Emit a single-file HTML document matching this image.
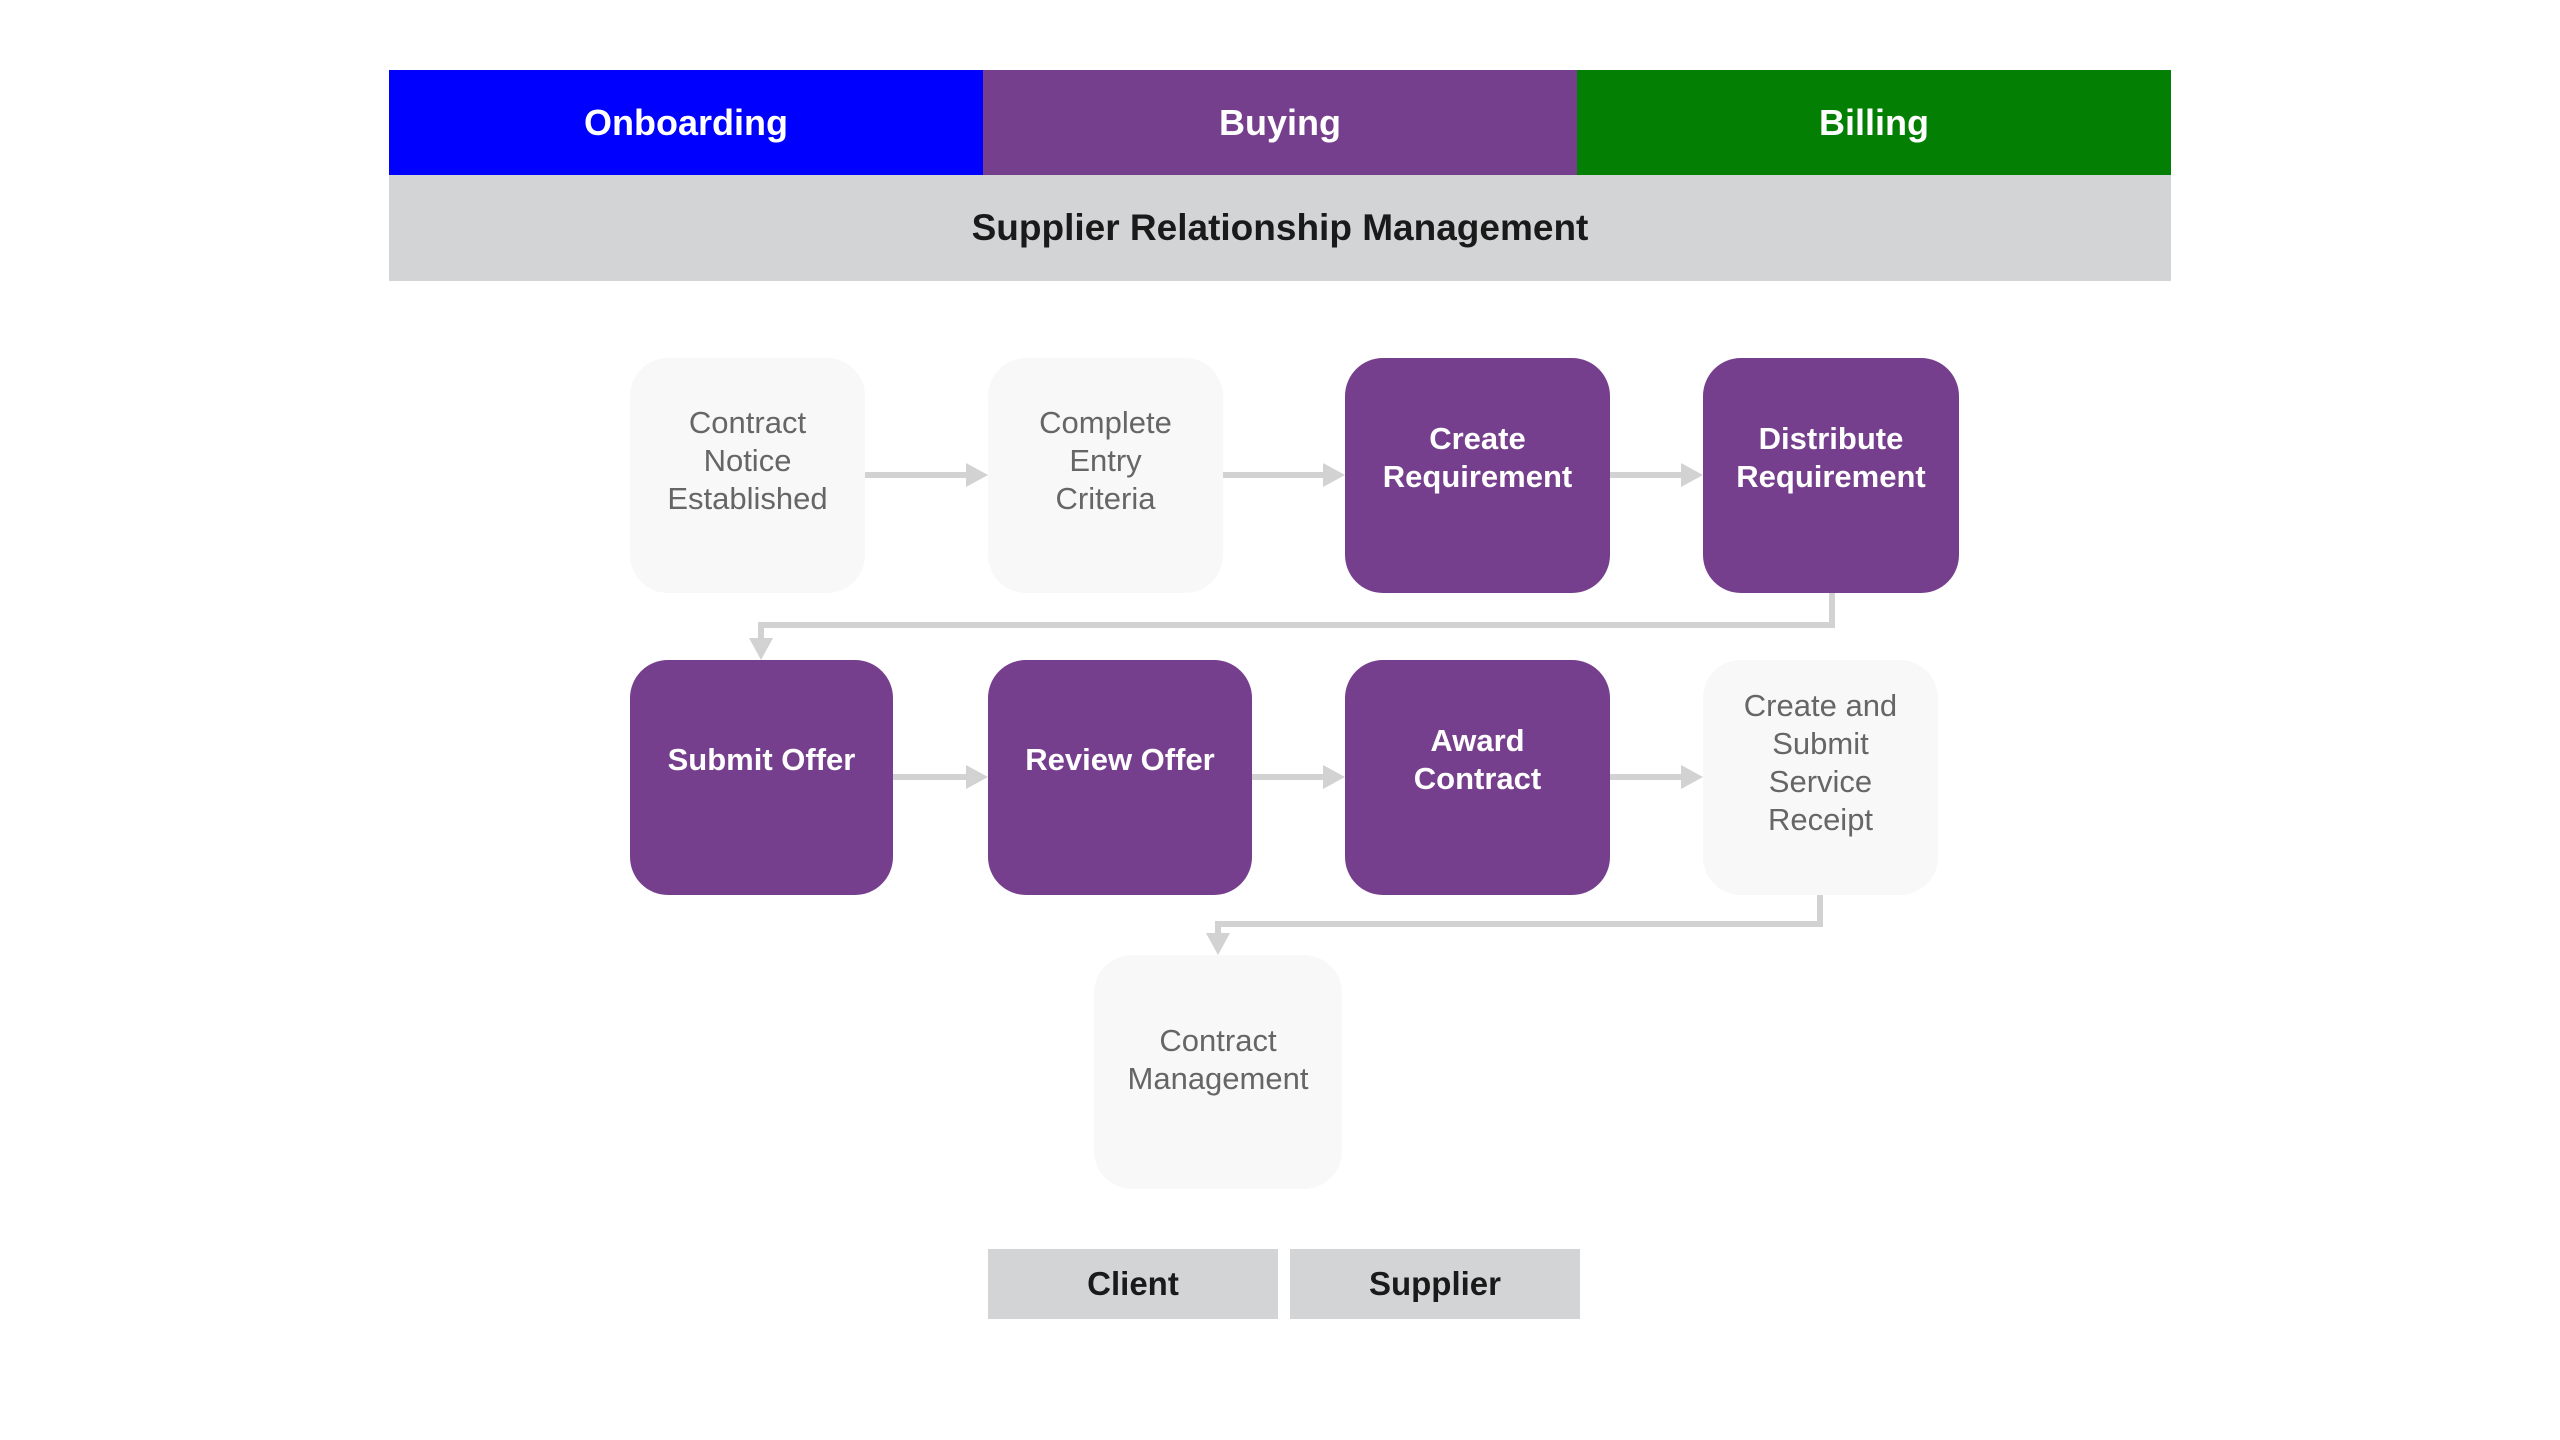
<!DOCTYPE html>
<html><head><meta charset="utf-8"><style>
body{margin:0;width:2560px;height:1440px;background:#fff;font-family:"Liberation Sans",Arial,sans-serif;position:relative;overflow:hidden}
.a{position:absolute;display:flex;align-items:center;justify-content:center;text-align:center;box-sizing:border-box}
.h{color:#fff;font-weight:bold;font-size:36px;top:70px;height:105px}
.n{border-radius:38px;font-size:31px;line-height:38px}
.p{background:#763f8d;color:#fff;font-weight:bold}
.l{background:#f8f8f8;color:#666}
.g{background:#d3d4d6;color:#1a1a1a;font-weight:bold;font-size:33px}
</style></head><body>
<div class="a h" style="left:389px;width:594px;background:#0000ff">Onboarding</div>
<div class="a h" style="left:983px;width:594px;background:#763f8d">Buying</div>
<div class="a h" style="left:1577px;width:594px;background:#038003">Billing</div>
<div class="a g" style="left:389px;width:1782px;top:175px;height:106px;font-size:37px">Supplier Relationship Management</div>

<svg style="position:absolute;left:0;top:0" width="2560" height="1440">
<g stroke="#d2d2d2" stroke-width="6" fill="none">
<line x1="865" y1="475" x2="970" y2="475"/>
<line x1="1223" y1="475" x2="1327" y2="475"/>
<line x1="1610" y1="475" x2="1686" y2="475"/>
<polyline points="1832,593 1832,625 761,625 761,645"/>
<line x1="893" y1="777" x2="970" y2="777"/>
<line x1="1252" y1="777" x2="1327" y2="777"/>
<line x1="1610" y1="777" x2="1686" y2="777"/>
<polyline points="1820,895 1820,924 1218,924 1218,940"/>
</g>
<g fill="#d2d2d2">
<polygon points="966,463 988,475 966,487"/>
<polygon points="1323,463 1345,475 1323,487"/>
<polygon points="1681,463 1703,475 1681,487"/>
<polygon points="749,638 773,638 761,660"/>
<polygon points="966,765 988,777 966,789"/>
<polygon points="1323,765 1345,777 1323,789"/>
<polygon points="1681,765 1703,777 1681,789"/>
<polygon points="1206,933 1230,933 1218,955"/>
</g>
</svg>

<div class="a n l" style="left:630px;top:358px;width:235px;height:235px;padding-bottom:30px">Contract<br>Notice<br>Established</div>
<div class="a n l" style="left:988px;top:358px;width:235px;height:235px;padding-bottom:30px">Complete<br>Entry<br>Criteria</div>
<div class="a n p" style="left:1345px;top:358px;width:265px;height:235px;padding-bottom:36px">Create<br>Requirement</div>
<div class="a n p" style="left:1703px;top:358px;width:256px;height:235px;padding-bottom:36px">Distribute<br>Requirement</div>
<div class="a n p" style="left:630px;top:660px;width:263px;height:235px;padding-bottom:36px">Submit Offer</div>
<div class="a n p" style="left:988px;top:660px;width:264px;height:235px;padding-bottom:36px">Review Offer</div>
<div class="a n p" style="left:1345px;top:660px;width:265px;height:235px;padding-bottom:36px">Award<br>Contract</div>
<div class="a n l" style="left:1703px;top:660px;width:235px;height:235px;padding-bottom:30px">Create and<br>Submit<br>Service<br>Receipt</div>
<div class="a n l" style="left:1094px;top:955px;width:248px;height:234px;padding-bottom:24px">Contract<br>Management</div>

<div class="a g" style="left:988px;top:1249px;width:290px;height:70px">Client</div>
<div class="a g" style="left:1290px;top:1249px;width:290px;height:70px">Supplier</div>
</body></html>
